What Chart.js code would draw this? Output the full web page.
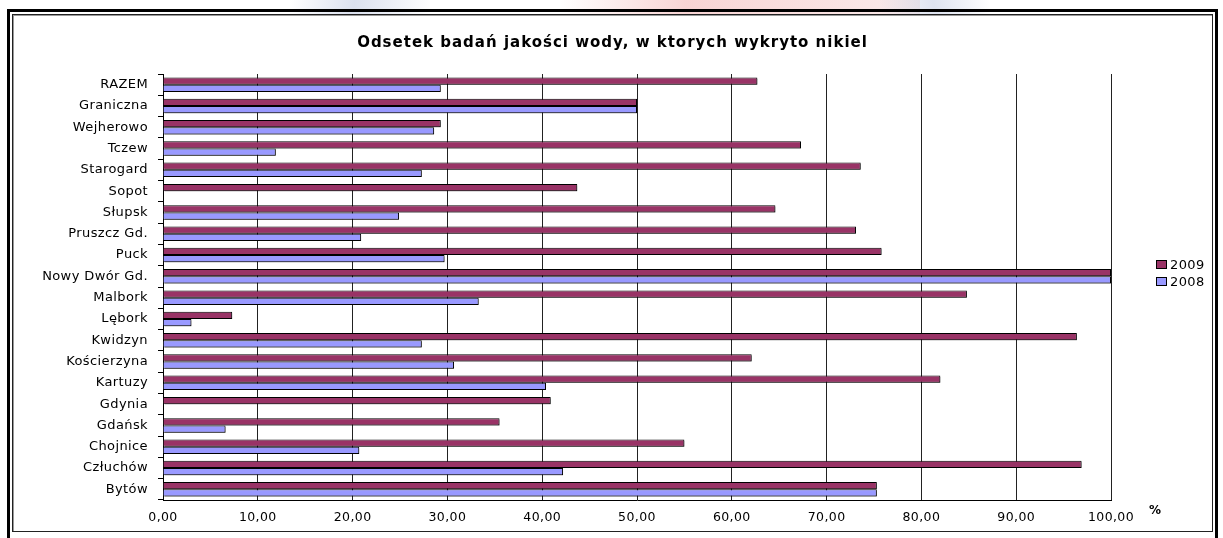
<!DOCTYPE html>
<html lang="pl">
<head>
<meta charset="utf-8">
<title>Odsetek badań jakości wody, w ktorych wykryto nikiel</title>
<script src="https://cdn.jsdelivr.net/npm/chart.js@4.4.1/dist/chart.umd.min.js"></script>
<style>
  html, body { margin: 0; padding: 0; background: #fff; overflow: hidden; }
  body { width: 1223px; height: 538px; position: relative; font-family: "DejaVu Sans", sans-serif; }
  .mark { position: absolute; top: 0; height: 24px; }
  .mark--blue { left: 290px; width: 140px; background: linear-gradient(100deg, rgba(190,200,225,0) 0%, rgba(190,200,225,0.55) 45%, rgba(190,200,225,0) 100%); }
  .mark--red { left: 560px; width: 360px; background: linear-gradient(90deg, rgba(240,170,170,0) 0%, rgba(240,160,160,0.45) 35%, rgba(240,190,190,0.3) 100%); }
  .mark--blue2 { left: 880px; width: 110px; background: linear-gradient(80deg, rgba(190,200,225,0) 0%, rgba(190,200,225,0.5) 50%, rgba(190,200,225,0) 100%); }
  .frame-outer { position: absolute; left: 7px; top: 9px; width: 1205px; height: 560px; border: 3px solid #000; }
  .frame-inner { position: absolute; left: 12px; top: 14px; width: 1199px; height: 516px; border: 1px solid #222; background: #fff; box-shadow: inset 1px 1px 0 #999; }
  canvas { position: absolute; left: 13px; top: 15px; }
  .title { position: absolute; left: 13px; width: 1199px; top: 33px; text-align: center; font-weight: bold; font-size: 15px; letter-spacing: 1px; color: #000; }
  .legend { position: absolute; left: 1156px; top: 256px; font-size: 13px; letter-spacing: 0.4px; color: #000; }
  .legend__item { display: flex; align-items: center; height: 17px; }
  .legend__box { width: 9px; height: 7px; border: 1px solid #000; margin-right: 3px; }
  .unit { position: absolute; left: 1149px; top: 503px; font-size: 12px; font-weight: bold; }
</style>
</head>
<body>
  <div class="mark mark--blue"></div>
  <div class="mark mark--red"></div>
  <div class="mark mark--blue2"></div>
  <div class="frame-outer"></div>
  <div class="frame-inner"></div>
  <canvas id="chart-nickel" width="1199" height="516"></canvas>
  <div class="title">Odsetek badań jakości wody, w ktorych wykryto nikiel</div>
  <div class="legend" id="legend"></div>
  <div class="unit">%</div>

<script>
// Data
const categories = [
  "RAZEM", "Graniczna", "Wejherowo", "Tczew", "Starogard", "Sopot", "Słupsk",
  "Pruszcz Gd.", "Puck", "Nowy Dwór Gd.", "Malbork", "Lębork", "Kwidzyn",
  "Kościerzyna", "Kartuzy", "Gdynia", "Gdańsk", "Chojnice", "Człuchów", "Bytów",
];
const values2009 = [
  62.7, 50.0, 29.3, 67.3, 73.6, 43.7, 64.6, 73.1, 75.8, 100.0,
  84.8, 7.3, 96.4, 62.1, 82.0, 40.9, 35.5, 55.0, 96.9, 75.3,
];
const values2008 = [
  29.3, 50.0, 28.6, 11.9, 27.3, 0, 24.9, 20.9, 29.7, 100.0,
  33.3, 3.0, 27.3, 30.7, 40.4, 0, 6.6, 20.7, 42.2, 75.3,
];
const seriesLabels = ["2009", "2008"];
const xTicks = [0, 10, 20, 30, 40, 50, 60, 70, 80, 90, 100];

const COLORS = ["#993366", "#9999FF"];

document.addEventListener("DOMContentLoaded", () => {
  buildLegend();
  initializeChart();
});

function buildLegend() {
  const legend = document.getElementById("legend");
  seriesLabels.forEach((label, i) => {
    const item = document.createElement("div");
    item.className = "legend__item";
    const box = document.createElement("span");
    box.className = "legend__box";
    box.style.background = COLORS[i];
    item.appendChild(box);
    item.appendChild(document.createTextNode(label));
    legend.appendChild(item);
  });
}

// the old Excel text is drawn a bit wide
const wideText = {
  id: "wideText",
  beforeLayout(chart) {
    chart.ctx.letterSpacing = "0.4px";
  },
  beforeDraw(chart) {
    chart.ctx.letterSpacing = "0.4px";
  },
};

// grey drop shadow under the bars
const barShadow = {
  id: "barShadow",
  beforeDatasetsDraw(chart) {
    const ctx = chart.ctx;
    ctx.save();
    ctx.shadowColor = "rgba(0, 0, 0, 0.35)";
    ctx.shadowOffsetX = 1.5;
    ctx.shadowOffsetY = 1.5;
    ctx.shadowBlur = 0;
  },
  afterDatasetsDraw(chart) {
    chart.ctx.restore();
  },
};

function initializeChart() {
  const el = document.getElementById("chart-nickel");
  if (typeof Chart === "undefined" || !el) return;

  new Chart(el, {
    type: "bar",
    data: {
      labels: categories,
      datasets: [
        {
          label: seriesLabels[0],
          data: values2009,
          backgroundColor: COLORS[0],
          borderColor: "#000",
          borderWidth: 1,
        },
        {
          label: seriesLabels[1],
          data: values2008,
          backgroundColor: COLORS[1],
          borderColor: "#000",
          borderWidth: 1,
        },
      ],
    },
    options: {
      indexAxis: "y",
      responsive: false,
      animation: false,
      devicePixelRatio: 1,
      categoryPercentage: 0.68,
      barPercentage: 1,
      layout: { padding: { top: 59, right: 101, left: 0, bottom: 0 } },
      plugins: {
        legend: { display: false },
        title: { display: false },
        tooltip: { enabled: false },
      },
      scales: {
        x: {
          type: "linear",
          min: xTicks[0],
          max: xTicks[xTicks.length - 1],
          afterBuildTicks: (scale) => {
            scale.ticks = xTicks.map((v) => ({ value: v }));
          },
          afterFit: (scale) => {
            scale.height = 31;
          },
          grid: {
            color: "#222",
            lineWidth: 1,
            drawTicks: false,
          },
          border: { display: true, color: "#000", width: 1 },
          ticks: {
            color: "#000",
            font: { family: "'DejaVu Sans', sans-serif", size: 12.5 },
            padding: 10,
            callback: (v) => Number(v).toFixed(2).replace(".", ","),
          },
        },
        y: {
          afterFit: (scale) => {
            scale.width = 150;
          },
          grid: {
            drawOnChartArea: false,
            drawTicks: true,
            tickLength: 5,
            color: "#000",
            offset: true,
          },
          border: { display: true, color: "#000", width: 1 },
          ticks: {
            color: "#000",
            font: { family: "'DejaVu Sans', sans-serif", size: 13 },
            padding: 10,
            autoSkip: false,
          },
        },
      },
    },
    plugins: [wideText, barShadow],
  });
}
</script>
</body>
</html>
